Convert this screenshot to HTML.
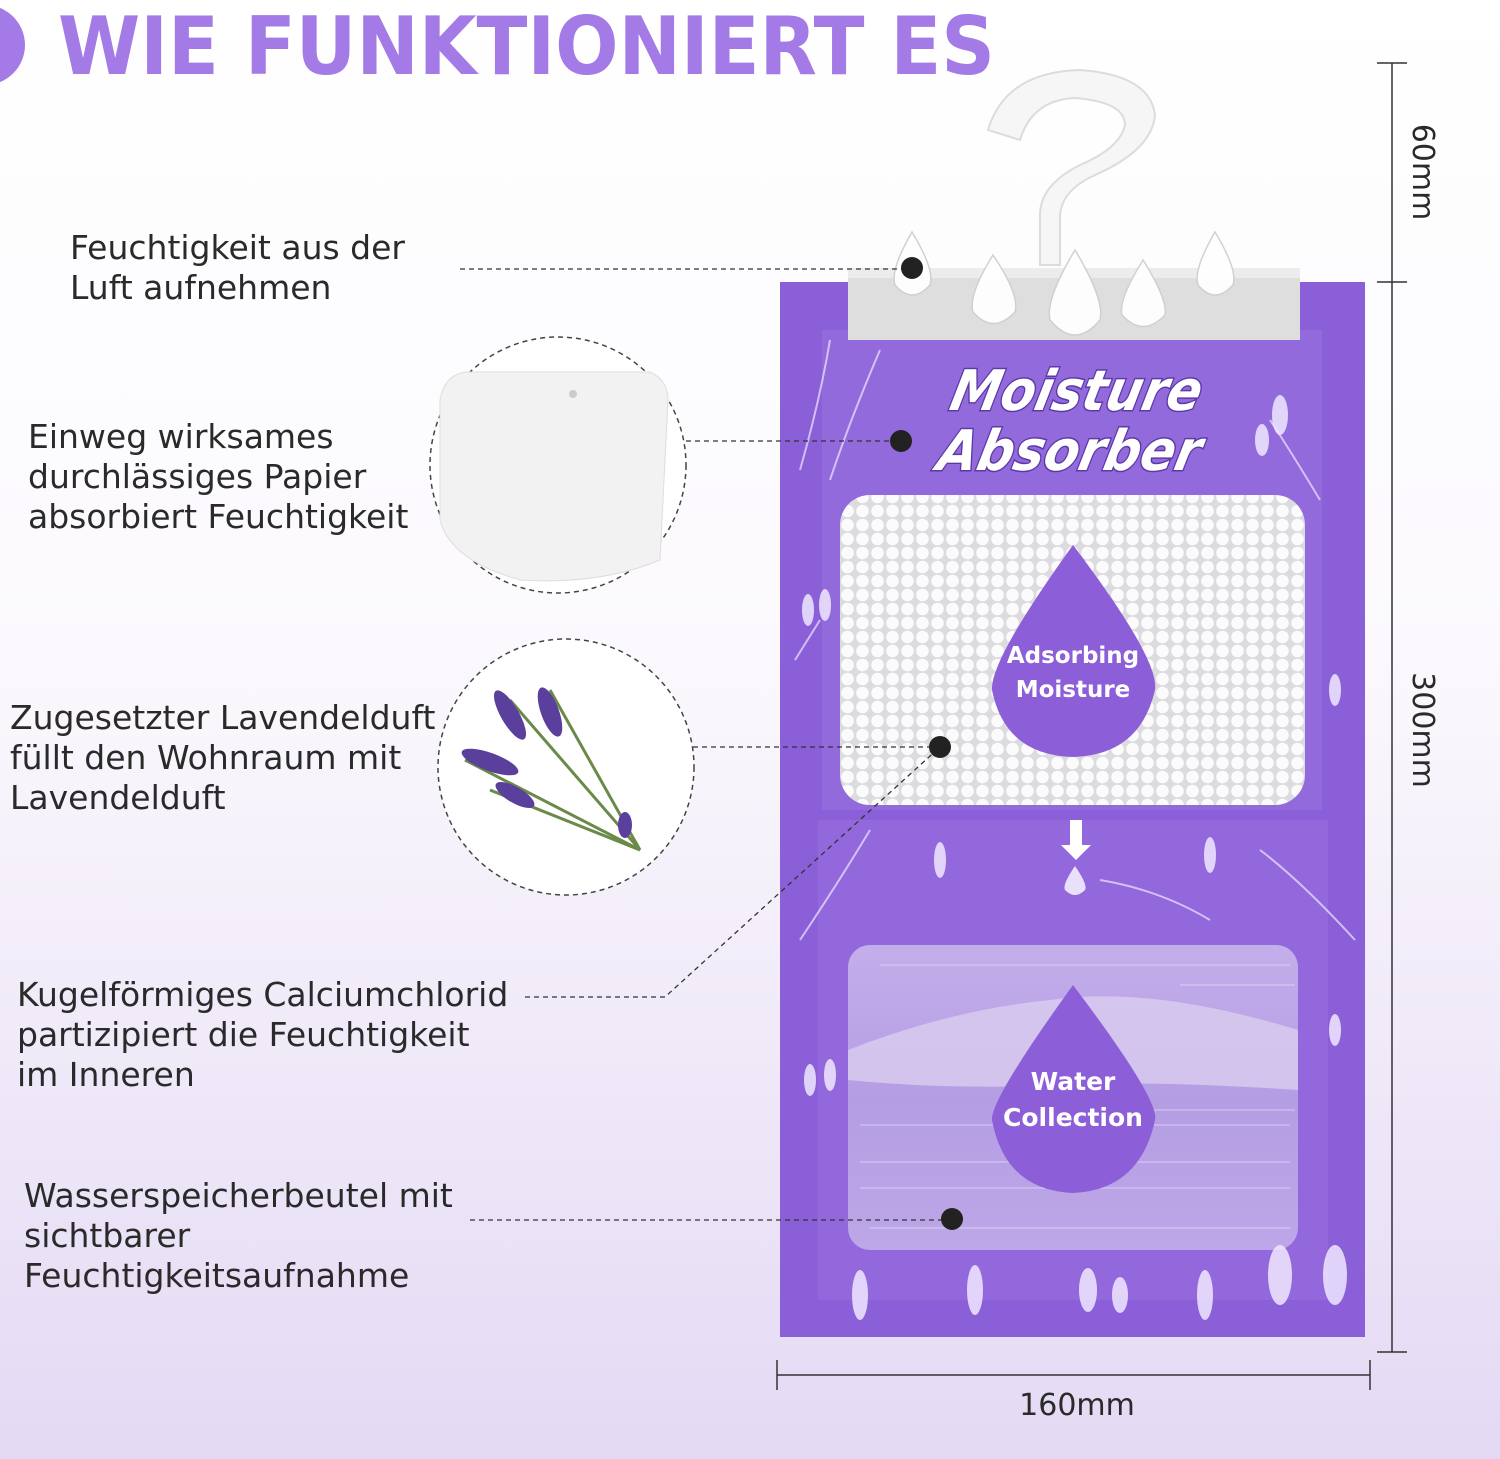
<!DOCTYPE html>
<html><head><meta charset="utf-8"><style>
html,body{margin:0;padding:0;width:1500px;height:1459px;overflow:hidden}
svg{display:block}
text{font-family:"DejaVu Sans","Liberation Sans",sans-serif}
</style></head><body>
<svg width="1500" height="1459" viewBox="0 0 1500 1459" xmlns="http://www.w3.org/2000/svg">
<defs>
<linearGradient id="bg" x1="0" y1="0" x2="0" y2="1">
<stop offset="0" stop-color="#ffffff"/><stop offset="0.45" stop-color="#fbf9fd"/><stop offset="1" stop-color="#e4d9f4"/>
</linearGradient>
<pattern id="balls" width="15" height="14" patternUnits="userSpaceOnUse">
<rect width="15" height="14" fill="#dcdce0"/>
<circle cx="7.5" cy="7" r="6.3" fill="#fbfbfb"/>
</pattern>
<linearGradient id="water" x1="0" y1="0" x2="0" y2="1">
<stop offset="0" stop-color="#c9b6ec"/><stop offset="0.5" stop-color="#b8a3e4"/><stop offset="1" stop-color="#c2aee9"/>
</linearGradient>
</defs>
<rect width="1500" height="1459" fill="url(#bg)"/>

<!-- title -->
<circle cx="-15" cy="45" r="40" fill="#a47be6"/>
<text x="58" y="74" font-size="80" font-weight="bold" fill="#a47be6" font-family="Liberation Sans,sans-serif" textLength="937" lengthAdjust="spacingAndGlyphs">WIE FUNKTIONIERT ES</text>

<!-- labels -->
<g font-size="33" fill="#2a2a2a">
<text x="70" y="259">Feuchtigkeit aus der</text>
<text x="70" y="299">Luft aufnehmen</text>
<text x="28" y="448">Einweg wirksames</text>
<text x="28" y="488">durchlässiges Papier</text>
<text x="28" y="528">absorbiert Feuchtigkeit</text>
<text x="10" y="729">Zugesetzter Lavendelduft</text>
<text x="10" y="769">füllt den Wohnraum mit</text>
<text x="10" y="809">Lavendelduft</text>
<text x="17" y="1006">Kugelförmiges Calciumchlorid</text>
<text x="17" y="1046">partizipiert die Feuchtigkeit</text>
<text x="17" y="1086">im Inneren</text>
<text x="24" y="1207">Wasserspeicherbeutel mit</text>
<text x="24" y="1247">sichtbarer</text>
<text x="24" y="1287">Feuchtigkeitsaufnahme</text>
</g>

<!-- detail circles -->
<circle cx="558" cy="465" r="128" fill="#fff" stroke="#444" stroke-width="1.5" stroke-dasharray="5,4"/>
<path d="M440 400 Q445 372 470 372 L650 372 Q668 380 668 400 L660 560 Q600 585 520 580 Q450 560 440 520 Z" fill="#f2f2f2" stroke="#ddd"/>
<circle cx="573" cy="394" r="4" fill="#ccc"/>
<circle cx="566" cy="767" r="128" fill="#fff" stroke="#444" stroke-width="1.5" stroke-dasharray="5,4"/>
<g stroke="#6b8a4a" stroke-width="3" fill="none">
<path d="M510 700 L640 850"/><path d="M550 690 L640 850"/><path d="M465 760 L640 850"/><path d="M490 790 L640 850"/>
</g>
<g fill="#5b3f9c">
<ellipse cx="510" cy="715" rx="9" ry="28" transform="rotate(-30 510 715)"/>
<ellipse cx="550" cy="712" rx="9" ry="26" transform="rotate(-20 550 712)"/>
<ellipse cx="490" cy="762" rx="9" ry="30" transform="rotate(-70 490 762)"/>
<ellipse cx="515" cy="795" rx="8" ry="22" transform="rotate(-60 515 795)"/>
<ellipse cx="625" cy="825" rx="7" ry="13"/>
</g>

<!-- bag -->
<rect x="780" y="282" width="585" height="1055" fill="#8a5fd8"/>
<rect x="822" y="330" width="500" height="480" fill="#9a72e0" opacity="0.6"/>
<rect x="818" y="820" width="510" height="480" fill="#9a72e0" opacity="0.5"/>
<!-- hook -->
<path d="M1060 265 L1060 215 Q1062 190 1095 175 Q1152 150 1155 115 Q1150 75 1080 70 Q1005 72 988 130 L1020 140 Q1032 100 1075 98 Q1125 102 1125 125 Q1120 148 1080 165 Q1040 185 1040 215 L1040 265 Z" fill="#f6f6f6" stroke="#dcdcdc" stroke-width="2"/>
<rect x="848" y="268" width="452" height="72" fill="#dedede"/>
<rect x="848" y="268" width="452" height="10" fill="#ececec"/>
<!-- drops -->
<g fill="#ffffff" stroke="#cfcfcf" stroke-width="1.5" opacity="0.95">
<path d="M912 232 Q935 270 930 285 Q912 305 895 285 Q890 270 912 232Z"/>
<path d="M993 255 Q1020 295 1015 312 Q993 335 973 312 Q968 295 993 255Z"/>
<path d="M1075 250 Q1105 300 1100 320 Q1075 350 1050 320 Q1045 300 1075 250Z"/>
<path d="M1143 260 Q1168 300 1165 315 Q1143 338 1122 315 Q1118 300 1143 260Z"/>
<path d="M1215 232 Q1238 270 1233 285 Q1215 305 1198 285 Q1193 270 1215 232Z"/>
</g>
<!-- logo -->
<g transform="skewX(-12)" font-family="Liberation Sans,sans-serif" font-weight="bold" font-style="italic" fill="#fff" stroke="#5b3aa8" stroke-width="3" paint-order="stroke">
<text x="1035" y="410" font-size="56" textLength="250" lengthAdjust="spacingAndGlyphs">Moisture</text>
<text x="1035" y="470" font-size="56" textLength="262" lengthAdjust="spacingAndGlyphs">Absorber</text>
</g>
<!-- pellets -->
<rect x="840" y="495" width="465" height="310" rx="30" fill="url(#balls)"/>
<path d="M1073 545 Q1160 660 1155 690 Q1140 755 1073 757 Q1005 755 992 690 Q990 660 1073 545Z" fill="#8c5fd8"/>
<g font-size="23" font-weight="bold" fill="#fff" text-anchor="middle">
<text x="1073" y="663">Adsorbing</text><text x="1073" y="697">Moisture</text>
</g>
<!-- arrow -->
<path d="M1070 820 h12 v25 h9 l-15 15 l-15 -15 h9z" fill="#fff"/>
<path d="M1075 866 Q1088 885 1085 890 Q1075 900 1065 890 Q1062 885 1075 866Z" fill="#e9e0fb"/>
<!-- water window -->
<rect x="848" y="945" width="450" height="305" rx="22" fill="url(#water)" opacity="0.9"/>
<path d="M848 1050 Q950 1010 1050 1000 Q1150 985 1298 1030 L1298 1090 Q1150 1080 1050 1085 Q950 1090 848 1080Z" fill="#d9cdef" opacity="0.8"/>
<g stroke="#e8e0f5" stroke-width="1" opacity="0.7">
<path d="M880 965 H1290"/><path d="M1180 985 H1295"/><path d="M1150 1110 H1295"/><path d="M860 1125 H1290"/><path d="M860 1162 H1290"/><path d="M860 1188 H1290"/><path d="M870 1228 H1290"/>
</g>
<path d="M1073 985 Q1160 1100 1155 1120 Q1140 1190 1073 1193 Q1005 1190 992 1120 Q990 1100 1073 985Z" fill="#8c5fd8"/>
<g font-size="25" font-weight="bold" fill="#fff" text-anchor="middle">
<text x="1073" y="1090">Water</text><text x="1073" y="1126">Collection</text>
</g>
<!-- lavender decor -->
<g fill="#f0e8ff" opacity="0.85">
<ellipse cx="1280" cy="415" rx="8" ry="20"/><ellipse cx="1262" cy="440" rx="7" ry="16"/>
<ellipse cx="808" cy="610" rx="6" ry="16"/><ellipse cx="825" cy="605" rx="6" ry="16"/>
<ellipse cx="1335" cy="690" rx="6" ry="16"/><ellipse cx="940" cy="860" rx="6" ry="18"/>
<ellipse cx="1210" cy="855" rx="6" ry="18"/><ellipse cx="1335" cy="1030" rx="6" ry="16"/>
<ellipse cx="810" cy="1080" rx="6" ry="16"/><ellipse cx="830" cy="1075" rx="6" ry="16"/>
<ellipse cx="1088" cy="1290" rx="9" ry="22"/><ellipse cx="1120" cy="1295" rx="8" ry="18"/>
<ellipse cx="1280" cy="1275" rx="12" ry="30"/><ellipse cx="1335" cy="1275" rx="12" ry="30"/>
<ellipse cx="860" cy="1295" rx="8" ry="25"/><ellipse cx="975" cy="1290" rx="8" ry="25"/><ellipse cx="1205" cy="1295" rx="8" ry="25"/>
</g>
<g stroke="#f0e8ff" stroke-width="2" fill="none" opacity="0.7">
<path d="M830 480 Q850 420 880 350"/><path d="M800 470 Q820 400 830 340"/>
<path d="M1320 500 Q1290 450 1270 420"/><path d="M795 660 L820 620"/>
<path d="M800 940 Q840 880 870 830"/><path d="M1355 940 Q1300 880 1260 850"/>
<path d="M1100 880 Q1160 890 1210 920"/>
</g>

<!-- leader lines (on top) -->
<g stroke="#333" stroke-width="1.3" stroke-dasharray="5,4" fill="none">
<path d="M460 269 L912 269"/>
<path d="M686 441 L900 441"/>
<path d="M693 747 L940 747"/>
<path d="M525 997 L665 997 L940 747"/>
<path d="M470 1220 L952 1220"/>
</g>
<!-- dots -->
<g fill="#222">
<circle cx="912" cy="268" r="11"/><circle cx="901" cy="441" r="11"/>
<circle cx="940" cy="747" r="11"/><circle cx="952" cy="1219" r="11"/>
</g>

<!-- dimensions -->
<g stroke="#333" stroke-width="1.5">
<path d="M1392 63 V1352"/><path d="M1377 63 H1407"/><path d="M1377 282 H1407"/><path d="M1377 1352 H1407"/>
<path d="M777 1375 H1370"/><path d="M777 1360 V1390"/><path d="M1370 1360 V1390"/>
</g>
<g font-size="30" fill="#2a2a2a">
<text transform="translate(1413,172) rotate(90)" text-anchor="middle">60mm</text>
<text transform="translate(1413,730) rotate(90)" text-anchor="middle">300mm</text>
<text x="1077" y="1415" text-anchor="middle">160mm</text>
</g>
</svg>
</body></html>
